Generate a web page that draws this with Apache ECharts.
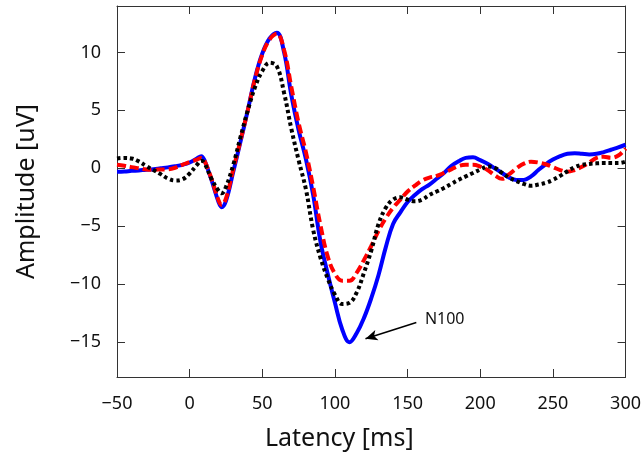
<!DOCTYPE html>
<html>
<head>
<meta charset="utf-8">
<script src="https://cdn.jsdelivr.net/npm/echarts@6/dist/echarts.min.js"></script>
<style>
  html, body { margin: 0; padding: 0; background: #fff; }
  #chart { width: 644px; height: 459px; }
</style>
</head>
<body>
<div id="chart"></div>
<script>
// latency [ms]
const latency = [
  -50, -45, -40, -35, -30, -25, -20, -15, -10, -5,
  0, 5, 8, 10, 15, 20, 22, 25, 30, 35, 40, 45,
  50, 55, 60, 65, 70, 75, 80, 85, 90, 95,
  100, 105, 110, 115, 120, 125, 130, 135, 140, 145,
  150, 155, 160, 165, 170, 175, 180, 185, 190, 195,
  200, 205, 210, 215, 220, 225, 230, 235, 240, 245,
  250, 255, 260, 265, 270, 275, 280, 285, 290, 295,
  300
]
// amplitude [uV], blue solid
const blueAmp = [
  -0.3, -0.28, -0.22, -0.18, -0.12, -0.08, 0.0, 0.08, 0.18, 0.3,
  0.5, 0.85, 1.05, 0.75, -1.0, -2.95, -3.35, -2.8, -0.3, 2.3, 5.0, 7.8,
  9.9, 11.2, 11.7, 10.0, 6.3, 3.3, 0.8, -2.3, -6.3, -9.1,
  -11.6, -13.9, -15.0, -14.2, -12.9, -11.2, -9.2, -6.8, -4.8, -3.8,
  -2.9, -2.3, -1.8, -1.4, -0.9, -0.4, 0.2, 0.6, 0.9, 0.95,
  0.7, 0.4, 0.0, -0.4, -0.8, -1.0, -1.0, -0.7, -0.15, 0.35,
  0.75, 1.05, 1.25, 1.3, 1.25, 1.2, 1.25, 1.4, 1.6, 1.8,
  2.05
]
// red dashed
const redAmp = [
  0.3, 0.22, 0.1, 0.0, -0.1, -0.12, -0.1, -0.08, 0.05, 0.3,
  0.55, 0.75, 0.9, 0.7, -0.9, -2.8, -3.15, -2.6, -0.1, 2.4, 5.0, 7.7,
  9.8, 11.1, 11.6, 10.2, 7.0, 3.9, 1.4, -1.6, -4.9, -7.6,
  -9.1, -9.7, -9.7, -9.0, -7.9, -6.7, -5.4, -4.3, -3.4, -2.7,
  -2.0, -1.5, -1.05, -0.8, -0.65, -0.4, -0.1, 0.2, 0.3, 0.3,
  0.15, -0.15, -0.6, -0.9, -0.5, 0.0, 0.4, 0.57, 0.5, 0.35,
  0.1, -0.15, -0.3, -0.15, 0.14, 0.5, 0.9, 1.0, 0.9, 1.1,
  1.7
]
// black dotted
const blackAmp = [
  0.85, 0.9, 0.85, 0.6, 0.2, -0.15, -0.5, -0.88, -1.05, -0.95,
  -0.45, 0.3, 0.65, 0.5, -0.9, -1.95, -2.15, -1.6, 0.3, 2.7, 5.0, 7.0,
  8.4, 9.1, 8.8, 6.5, 3.4, 0.7, -1.8, -5.3, -7.7, -9.5,
  -10.9, -11.7, -11.6, -10.7, -9.0, -7.1, -4.8, -3.4, -2.7, -2.5,
  -2.7, -2.85, -2.7, -2.3, -2.0, -1.7, -1.35, -1.0, -0.7, -0.4,
  -0.1, 0.15, 0.05, -0.4, -0.8, -1.1, -1.35, -1.5, -1.4, -1.25,
  -1.0, -0.65, -0.25, 0.1, 0.3, 0.38, 0.43, 0.45, 0.45, 0.45,
  0.57
]
const yTicks = [-15, -10, -5, 0, 5, 10]
// N100 annotation (data coords)
const n100Arrow = [[156, -13.3], [121, -14.7]]

const font = 'Noto Sans'
const axisColor = '#333'
const minus = v => String(v).replace('-', '\u2212')

const chart = echarts.init(document.getElementById('chart'))

const pairs = arr => latency.map((x, i) => [x, arr[i]])

const xBase = {
  type: 'value',
  min: -50,
  max: 300,
  interval: 50,
  splitLine: { show: false },
  axisLine: { show: true, onZero: false, lineStyle: { color: axisColor, width: 1 } },
  axisTick: { show: true, inside: true, length: 8, lineStyle: { color: axisColor } }
}
const yBase = {
  type: 'value',
  min: -18,
  max: 14,
  splitLine: { show: false },
  axisLine: { show: true, onZero: false, lineStyle: { color: axisColor, width: 1 } },
  axisTick: { show: true, inside: true, length: 8, customValues: yTicks, lineStyle: { color: axisColor } }
}

chart.setOption({
  animation: false,
  grid: { left: 117, right: 17, top: 6, bottom: 82 },
  xAxis: [
    Object.assign({}, xBase, {
      position: 'bottom',
      name: 'Latency [ms]',
      nameLocation: 'middle',
      nameGap: 49,
      nameTextStyle: { fontFamily: font, fontSize: 25, color: '#111', padding: [0, 64, 0, 0] },
      axisLabel: { margin: 18, fontFamily: font, fontSize: 18, color: '#111', formatter: minus }
    }),
    Object.assign({}, xBase, { position: 'top', axisLabel: { show: false } })
  ],
  yAxis: [
    Object.assign({}, yBase, {
      position: 'left',
      name: 'Amplitude [uV]',
      nameLocation: 'middle',
      nameGap: 78,
      nameTextStyle: { fontFamily: font, fontSize: 25, color: '#111' },
      axisLabel: { margin: 16, fontFamily: font, fontSize: 18, color: '#111', customValues: yTicks, formatter: minus }
    }),
    Object.assign({}, yBase, { position: 'right', axisLabel: { show: false } })
  ],
  series: [
    {
      name: 'blue',
      type: 'line',
      data: pairs(blueAmp),
      smooth: 0.4,
      showSymbol: false,
      lineStyle: { color: '#0000ff', width: 4 },
      markLine: {
        silent: true,
        symbol: ['none', 'arrow'],
        symbolSize: [8, 12],
        lineStyle: { color: '#000', width: 1.5, type: 'solid' },
        label: {
          show: true,
          position: 'start',
          formatter: 'N100',
          fontFamily: font,
          fontSize: 16,
          color: '#111',
          distance: 9
        },
        data: [[{ coord: n100Arrow[0] }, { coord: n100Arrow[1] }]]
      }
    },
    {
      name: 'red',
      type: 'line',
      data: pairs(redAmp),
      smooth: 0.4,
      showSymbol: false,
      lineStyle: { color: '#ff0000', width: 4, type: [9, 4] }
    },
    {
      name: 'black',
      type: 'line',
      data: pairs(blackAmp),
      smooth: 0.4,
      showSymbol: false,
      lineStyle: { color: '#000', width: 4, type: [3.5, 3] }
    }
  ]
})
</script>
</body>
</html>
